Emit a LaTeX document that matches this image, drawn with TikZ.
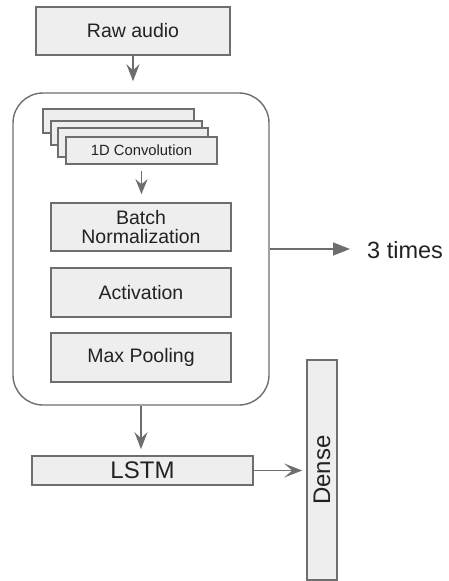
\documentclass[tikz,border=0pt]{standalone}
\usepackage{fontspec}
\setmainfont{Liberation Sans}
\usetikzlibrary{arrows.meta}
\definecolor{boxfill}{HTML}{EEEEEE}
\definecolor{boxline}{HTML}{6E6E6E}
\definecolor{txt}{HTML}{222222}
\begin{document}
\begin{tikzpicture}[x=1pt,y=-1pt,
  box/.style={draw=boxline, fill=boxfill, line width=1.6pt, inner sep=0pt, text=txt, align=center},
  conn/.style={draw=boxline, line width=1.6pt},
  fs/.style={font=\fontsize{19.5}{21}\selectfont}]
\useasboundingbox (0,0) rectangle (449,581);
% raw audio
\node[box, fs, minimum width=194pt, minimum height=48pt] (raw) at (133,31) {Raw audio};
% big rounded container
\node[draw=boxline, line width=1.4pt, rounded corners=30pt, minimum width=256pt, minimum height=312pt, inner sep=0pt] (big) at (141,249) {};
% conv stack
\node[box, minimum width=151pt, minimum height=24pt] (c1) at (118.5,121) {};
\node[box, minimum width=151pt, minimum height=24pt] (c2) at (126.5,133) {};
\node[box, minimum width=150pt, minimum height=29pt] (c3) at (133,142.5) {};
\node[box, font=\fontsize{14.8}{16}\selectfont, minimum width=151pt, minimum height=27.5pt] (conv) at (141.5,150.5) {1D Convolution};
% inner layers
\node[box, fs, minimum width=180pt, minimum height=48pt] (bn) at (141,227) {Batch\\[-2pt]Normalization};
\node[box, fs, minimum width=180pt, minimum height=49pt] (act) at (141,292.5) {Activation};
\node[box, fs, minimum width=180pt, minimum height=49pt] (mp) at (141,357.5) {Max Pooling};
% 3 times
\node[anchor=west, inner sep=0pt, text=txt, font=\fontsize{23.5}{25}\selectfont] (times) at (367,250) {3 times};
\coordinate (tend) at (350,249);
% LSTM and Dense
\node[box, font=\fontsize{24}{26}\selectfont, minimum width=221pt, minimum height=29pt] (lstm) at (142.5,470.5) {LSTM};
\node[box, minimum width=30pt, minimum height=220pt] (dense) at (322,470) {};
\node[rotate=90, inner sep=0pt, text=txt, font=\fontsize{24}{26}\selectfont] (densetxt) at (dense.center) {Dense};
% connectors
\draw[conn, -{Stealth[length=17pt, width=13pt, inset=6pt]}, shorten >=11pt] (raw.south) -- (raw.south |- big.north);
\draw[conn, -{Stealth[length=15pt, width=12pt, inset=5pt]}, shorten <=6pt, shorten >=8pt] (conv.south) -- (conv.south |- bn.north);
\draw[conn, -{Triangle[length=17pt, width=13pt]}] (big.east |- tend) -- (tend);
\draw[conn, -{Stealth[length=17pt, width=13pt, inset=6pt]}, shorten >=6pt] (big.south) -- (big.south |- lstm.north);
\draw[conn, -{Stealth[length=18pt, width=14pt, inset=8pt]}, shorten >=4pt] (lstm.east) -- (lstm.east -| dense.west);
\end{tikzpicture}
\end{document}
